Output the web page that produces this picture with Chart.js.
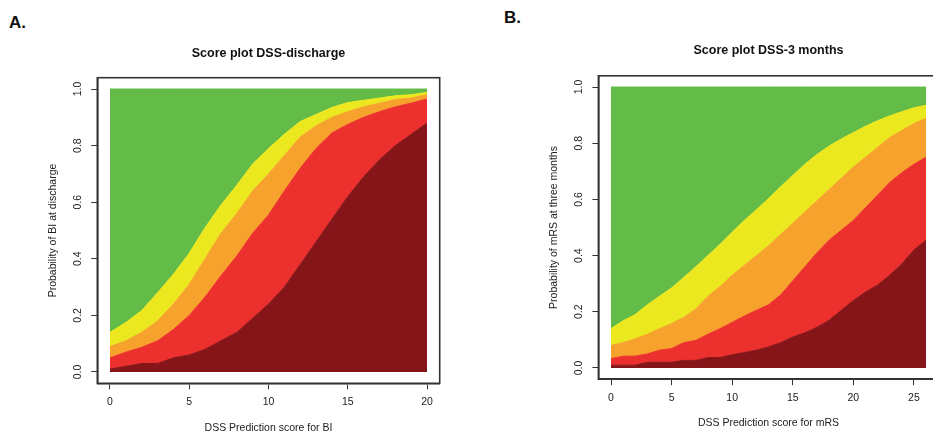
<!DOCTYPE html>
<html>
<head>
<meta charset="utf-8">
<script src="https://cdn.jsdelivr.net/npm/chart.js@4.4.1/dist/chart.umd.min.js"></script>
<style>
  html, body { margin: 0; padding: 0; background: #fff; overflow: hidden; width: 933px; height: 432px; }
  .panel { position: absolute; top: 0; }
  .tag { position: absolute; font: bold 17px "Liberation Sans", Arial, sans-serif; color: #111; line-height: 20px; }
</style>
</head>
<body>
<div class="tag" style="left:9px; top:13px;">A.</div>
<div class="tag" style="left:504px; top:8px;">B.</div>
<canvas id="chartA" class="panel" width="463" height="440" style="left:0px"></canvas>
<canvas id="chartB" class="panel" width="480" height="440" style="left:466px"></canvas>
<script>
// cumulative probability boundaries (bottom band up)
const scoresA = [0,1,2,3,4,5,6,7,8,9,10,11,12,13,14,15,16,17,18,19,20];
const darkA   = [0.01,0.02,0.03,0.03,0.05,0.06,0.08,0.11,0.14,0.19,0.24,0.30,0.38,0.46,0.54,0.62,0.69,0.75,0.80,0.84,0.88];
const redA    = [0.05,0.07,0.087,0.11,0.15,0.20,0.265,0.34,0.41,0.49,0.555,0.64,0.72,0.79,0.845,0.875,0.90,0.92,0.937,0.95,0.965];
const orangeA = [0.09,0.11,0.14,0.18,0.24,0.31,0.40,0.49,0.56,0.64,0.70,0.765,0.83,0.87,0.90,0.92,0.937,0.95,0.963,0.968,0.98];
const yellowA = [0.14,0.175,0.217,0.28,0.345,0.42,0.51,0.59,0.66,0.735,0.79,0.84,0.885,0.91,0.935,0.952,0.96,0.968,0.976,0.98,0.988];
const greenA  = [1,1,1,1,1,1,1,1,1,1,1,1,1,1,1,1,1,1,1,1,1];

const scoresB = [0,1,2,3,4,5,6,7,8,9,10,11,12,13,14,15,16,17,18,19,20,21,22,23,24,25,26];
const darkB   = [0.01,0.01,0.01,0.02,0.02,0.02,0.027,0.027,0.037,0.037,0.047,0.055,0.063,0.075,0.09,0.11,0.125,0.145,0.17,0.205,0.24,0.27,0.295,0.33,0.37,0.42,0.455];
const redB    = [0.033,0.042,0.042,0.05,0.063,0.069,0.09,0.098,0.12,0.14,0.162,0.185,0.205,0.225,0.26,0.31,0.36,0.41,0.455,0.49,0.525,0.57,0.615,0.66,0.695,0.725,0.75];
const orangeB = [0.08,0.09,0.104,0.12,0.14,0.158,0.18,0.21,0.255,0.29,0.33,0.365,0.40,0.435,0.475,0.515,0.555,0.595,0.635,0.675,0.715,0.75,0.785,0.82,0.845,0.87,0.888];
const yellowB = [0.14,0.168,0.19,0.225,0.255,0.285,0.322,0.36,0.40,0.44,0.483,0.525,0.563,0.603,0.645,0.685,0.725,0.76,0.79,0.815,0.838,0.86,0.88,0.897,0.912,0.926,0.935];
const greenB  = [1,1,1,1,1,1,1,1,1,1,1,1,1,1,1,1,1,1,1,1,1,1,1,1,1,1,1];

const xTicksA = [0, 5, 10, 15, 20];
const xTicksB = [0, 5, 10, 15, 20, 25];
const yTicks  = [0, 0.2, 0.4, 0.6, 0.8, 1.0];

const COLORS = ['#861519', '#ec302e', '#f6a22c', '#ebe81f', '#63bc48'];
const FONT = '"Liberation Sans", Arial, sans-serif';

const boxPlugin = {
  id: 'box',
  afterDraw(chart) {
    const { ctx, chartArea: a } = chart;
    ctx.save();
    ctx.strokeStyle = '#333';
    ctx.lineWidth = 1.6;
    ctx.strokeRect(a.left, a.top, a.right - a.left, a.bottom - a.top);
    ctx.restore();
  }
};

function makeChart(id, o) {
  const bands = [o.dark, o.red, o.orange, o.yellow, o.green];
  const lo = o.scores[0], hi = o.scores[o.scores.length - 1];
  const ext = (hi - lo) * 0.04;
  const datasets = bands.map((b, i) => ({
    data: o.scores.map((s, j) => ({ x: s, y: b[j] })),
    backgroundColor: COLORS[i],
    borderColor: COLORS[i],
    borderWidth: 1,
    fill: i === 0 ? 'origin' : '-1',
    pointRadius: 0,
    tension: 0
  }));
  return new Chart(document.getElementById(id), {
    type: 'line',
    data: { datasets },
    options: {
      responsive: false,
      animation: false,
      devicePixelRatio: 1,
      events: [],
      layout: { padding: { left: 0, right: o.padRight, top: 0, bottom: 0 } },
      plugins: {
        legend: { display: false },
        tooltip: { enabled: false },
        title: {
          display: true, text: o.title, fullSize: false, color: '#111',
          font: { family: FONT, size: 12.5, weight: 'bold' },
          padding: { top: o.titleTop, bottom: o.titleBottom }
        }
      },
      scales: {
        x: {
          type: 'linear', min: lo - ext, max: hi + ext,
          afterBuildTicks: s => { s.ticks = o.xTicks.map(v => ({ value: v })); },
          afterFit: s => { s.height = o.xHeight; },
          ticks: { autoSkip: false, maxRotation: 0, padding: o.xPad, color: '#222',
                   font: { family: FONT, size: 10.5 }, callback: v => String(v) },
          grid: { drawOnChartArea: false, drawTicks: true, tickLength: 6, color: '#333', lineWidth: 1 },
          border: { display: true, color: '#333', width: 1.6 },
          title: { display: true, text: o.xTitle, color: '#222',
                   font: { family: FONT, size: 10.5 }, padding: { top: 0, bottom: o.xTitlePad } }
        },
        y: {
          type: 'linear', min: -0.04, max: 1.04,
          afterBuildTicks: s => { s.ticks = yTicks.map(v => ({ value: v })); },
          afterFit: s => { s.width = o.yWidth; },
          ticks: { autoSkip: false, minRotation: 90, maxRotation: 90, crossAlign: 'center',
                   padding: o.yPad, color: '#222', font: { family: FONT, size: 10.5 },
                   callback: v => v.toFixed(1) },
          grid: { drawOnChartArea: false, drawTicks: true, tickLength: 6, color: '#333', lineWidth: 1 },
          border: { display: true, color: '#333', width: 1.6 },
          title: { display: true, text: o.yTitle, color: '#222',
                   font: { family: FONT, size: 10.5 }, padding: { top: o.yTitlePad, bottom: 0 } }
        }
      }
    },
    plugins: [boxPlugin]
  });
}

makeChart('chartA', {
  scores: scoresA, dark: darkA, red: redA, orange: orangeA, yellow: yellowA, green: greenA,
  xTicks: xTicksA,
  title: 'Score plot DSS-discharge',
  xTitle: 'DSS Prediction score for BI',
  yTitle: 'Probability of BI at discharge',
  padRight: 23.3, yWidth: 97.3, xHeight: 56.7,
  titleTop: 45.8, titleBottom: 16.9,
  xPad: 7, yPad: 6, xTitlePad: 6, yTitlePad: 46.5
});

makeChart('chartB', {
  scores: scoresB, dark: darkB, red: redB, orange: orangeB, yellow: yellowB, green: greenB,
  xTicks: xTicksB,
  title: 'Score plot DSS-3 months',
  xTitle: 'DSS Prediction score for mRS',
  yTitle: 'Probability of mRS at three months',
  padRight: 7.4, yWidth: 132.4, xHeight: 60.8,
  titleTop: 43.5, titleBottom: 17.3,
  xPad: 7, yPad: 5.5, xTitlePad: 10.4, yTitlePad: 81.7
});
</script>
</body>
</html>
